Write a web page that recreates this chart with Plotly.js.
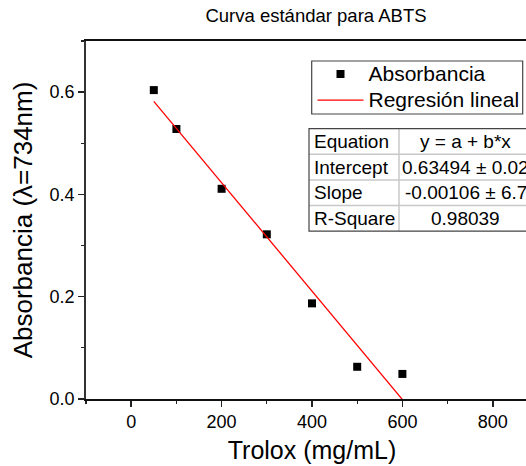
<!DOCTYPE html>
<html>
<head>
<meta charset="utf-8">
<script src="https://cdn.plot.ly/plotly-3.0.1.min.js"></script>
<style>
html, body { margin: 0; padding: 0; overflow: hidden; background: #fff; }
#chart { width: 560px; height: 466px; }
</style>
</head>
<body>
<div id="chart"></div>
<script>
// Data
const trolox = [50, 100, 200, 300, 400, 500, 600];
const absorbancia = [0.604, 0.528, 0.411, 0.322, 0.187, 0.063, 0.049];
const fitIntercept = 0.63494;
const fitSlope = -0.00106;
const fitRange = [50, 600];
const seriesNames = ["Absorbancia", "Regresión lineal"];
const tableLabels = ["Equation", "Intercept", "Slope", "R-Square"];
const tableValues = ["y = a + b*x", "0.63494 \u00b1 0.02", "-0.00106 \u00b1 6.7", "0.98039"];

const fitY = fitRange.map(x => fitIntercept + fitSlope * x);

const W = 560, H = 466;
const L = 86, R = 22, T = 41, B = 67;
const pw = W - L - R, ph = H - T - B;
const px = v => (v - L) / pw;          // pixel -> paper x
const py = v => (H - B - v) / ph;       // pixel -> paper y

const FONT = "Liberation Sans, Arial, Helvetica, sans-serif";
const big = s => '<span style="font-size:21px">' + s + '</span>';

const traces = [
  {
    x: trolox, y: absorbancia, type: "scatter", mode: "markers",
    name: big(seriesNames[0]),
    marker: { symbol: "square", size: 8, color: "#000" }
  },
  {
    x: fitRange, y: fitY, type: "scatter", mode: "lines",
    name: big(seriesNames[1]),
    line: { color: "#ff0000", width: 1.3 }
  }
];

const shapes = [];
const annotations = [];

// legend frame
shapes.push({ type: "rect", xref: "paper", yref: "paper",
  x0: px(311.7), x1: px(522.7), y0: py(61), y1: py(114),
  fillcolor: "rgba(255,255,255,0)", line: { color: "#444", width: 1.2 } });

// table geometry (pixels)
const tx0 = 309, tx1 = 531, tdiv = 399;
const rows = [128.7, 154.3, 180, 205.6, 231.2];
for (let i = 1; i < rows.length - 1; i++) {
  shapes.push({ type: "line", xref: "paper", yref: "paper",
    x0: px(tx0), x1: px(tx1), y0: py(rows[i]), y1: py(rows[i]),
    line: { color: "#c8c8c8", width: 1.5 } });
}
shapes.push({ type: "line", xref: "paper", yref: "paper",
  x0: px(tdiv), x1: px(tdiv), y0: py(rows[0]), y1: py(rows[rows.length - 1]),
  line: { color: "#c8c8c8", width: 1.5 } });
shapes.push({ type: "rect", xref: "paper", yref: "paper",
  x0: px(tx0), x1: px(tx1), y0: py(rows[0]), y1: py(rows[rows.length - 1]),
  line: { color: "#444", width: 1.2 } });

tableLabels.forEach((lab, i) => {
  const yc = (rows[i] + rows[i + 1]) / 2;
  annotations.push({ xref: "paper", yref: "paper", x: px(tx0 + 3), y: py(yc),
    xanchor: "left", yanchor: "middle", text: lab, showarrow: false,
    font: { family: FONT, size: 19, color: "#000" } });
  const v = tableValues[i];
  const centered = (i === 0 || i === 3);
  annotations.push({ xref: "paper", yref: "paper",
    x: centered ? px((tdiv + tx1) / 2) : px(tdiv + (i === 1 ? 1 : 4)),
    y: py(yc),
    xanchor: centered ? "center" : "left", yanchor: "middle", text: v, showarrow: false,
    font: { family: FONT, size: 19, color: "#000" } });
});

const layout = {
  width: W, height: H,
  margin: { l: L, r: R, t: T, b: B, pad: 0 },
  paper_bgcolor: "#fff", plot_bgcolor: "#fff",
  font: { family: FONT, color: "#000" },
  title: {
    text: "Curva estándar para ABTS",
    font: { family: FONT, size: 18.5, color: "#000" },
    xref: "container", yref: "container",
    x: 316 / W, y: 1 - 16 / H, xanchor: "center", yanchor: "middle"
  },
  showlegend: true,
  legend: {
    x: px(312.5), y: py(56), xanchor: "left", yanchor: "top",
    bgcolor: "rgba(255,255,255,0)", borderwidth: 0,
    font: { family: FONT, size: 17.8, color: "#000" },
    tracegroupgap: 0, itemwidth: 46
  },
  xaxis: {
    range: [-100, 900],
    tickvals: [0, 200, 400, 600, 800],
    ticktext: ["0", "200", "400", "600", "800"],
    ticks: "outside", ticklen: 6, tickwidth: 1.5, tickcolor: "#222",
    minor: { dtick: 100, tick0: 0, ticks: "outside", ticklen: 3.5, tickwidth: 1.2, tickcolor: "#222" },
    showline: true, mirror: true, linecolor: "#111", linewidth: 1.6,
    showgrid: false, zeroline: false,
    tickfont: { family: FONT, size: 18, color: "#000" },
    title: { text: "Trolox (mg/mL)", font: { family: FONT, size: 25, color: "#000" }, standoff: 10 }
  },
  yaxis: {
    range: [0, 0.7],
    tickvals: [0, 0.2, 0.4, 0.6],
    ticktext: ["0.0", "0.2", "0.4", "0.6"],
    ticks: "outside", ticklen: 6, tickwidth: 1.5, tickcolor: "#222",
    minor: { dtick: 0.1, tick0: 0, ticks: "outside", ticklen: 3.5, tickwidth: 1.2, tickcolor: "#222" },
    showline: true, mirror: true, linecolor: "#333", linewidth: 1.8,
    showgrid: false, zeroline: false,
    tickfont: { family: FONT, size: 18, color: "#000" },
    title: { text: "Absorbancia (λ=734nm)", font: { family: FONT, size: 26, color: "#000" }, standoff: 9 }
  },
  shapes: shapes,
  annotations: annotations
};

Plotly.newPlot("chart", traces, layout, { displayModeBar: false, staticPlot: true });
</script>
</body>
</html>
